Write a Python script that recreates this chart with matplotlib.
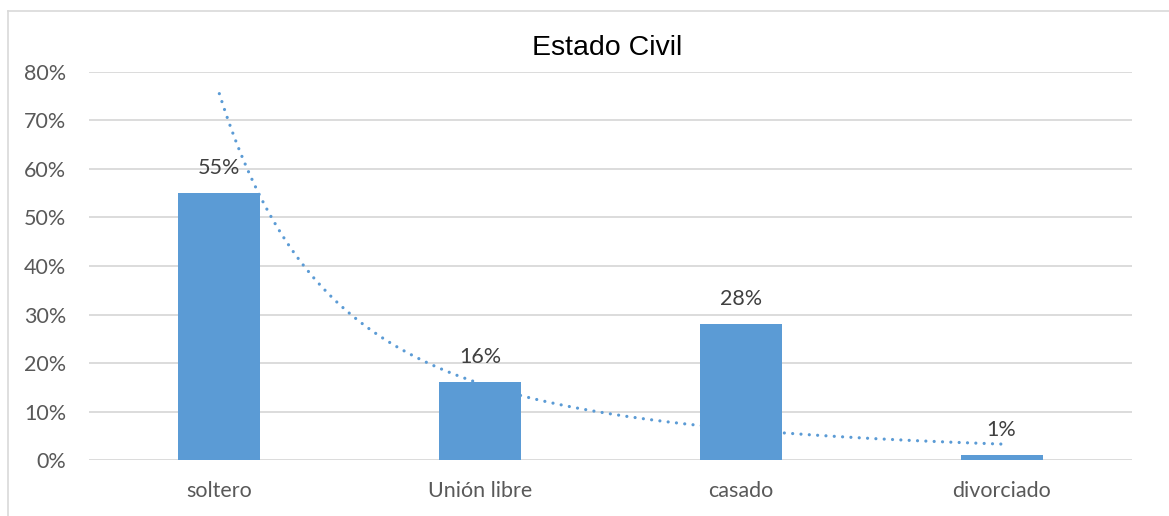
import numpy as np
import matplotlib.pyplot as plt
from matplotlib.lines import Line2D

categorias = ['soltero', 'Unión libre', 'casado', 'divorciado']
porcentajes = [0.55, 0.16, 0.28, 0.01]
etiquetas = ['55%', '16%', '28%', '1%']
ticks_y = [0, 0.1, 0.2, 0.3, 0.4, 0.5, 0.6, 0.7, 0.8]
ticks_y_txt = ['0%', '10%', '20%', '30%', '40%', '50%', '60%', '70%', '80%']

azul = '#5B9BD5'
gris = '#D9D9D9'

plt.rcParams['font.family'] = ['Lato', 'DejaVu Sans']

fig = plt.figure(figsize=(11.69, 5.16), dpi=100)
ax = fig.add_axes([0.0761, 0.1085, 0.8922, 0.752])

x = np.arange(len(categorias))
ax.bar(x, porcentajes, width=0.314, color=azul, zorder=3)

for xi, v, t in zip(x, porcentajes, etiquetas):
    ax.annotate(t, (xi, v), xytext=(0, 11), textcoords='offset points',
                ha='center', va='bottom', fontsize=15.5, color='#404040', zorder=4)

# linea de tendencia potencial (como Excel), ajuste en log-log
xs = x + 1
b, ln_a = np.polyfit(np.log(xs), np.log(porcentajes), 1)
xt = np.linspace(1, len(categorias), 200)
yt = np.exp(ln_a) * xt ** b
ax.plot(xt - 1, yt, color=azul, lw=2.3, linestyle=(0, (0.01, 2.6)),
        dash_capstyle='round', zorder=4)

ax.set_xlim(-0.5, len(categorias) - 0.5)
ax.set_ylim(0, 0.8)
ax.set_yticks(ticks_y)
ax.set_yticklabels(ticks_y_txt)
ax.set_xticks(x)
ax.set_xticklabels(categorias)
ax.tick_params(axis='both', length=0, labelsize=15.5, colors='#595959')
ax.tick_params(axis='y', pad=16.5)
ax.tick_params(axis='x', pad=15)
ax.grid(axis='y', color=gris, lw=1.3, zorder=0)
for s in ax.spines.values():
    s.set_visible(False)

fig.text(0.519, 0.907, 'Estado Civil', ha='center', va='center',
         fontsize=20.5, family='Liberation Sans', color='black',
         bbox=dict(facecolor='white', edgecolor='none', pad=2, alpha=0.6))

# borde del area del grafico
fig.add_artist(Line2D([0.0065, 0.0065], [0, 0.978], color=gris, lw=1.2))
fig.add_artist(Line2D([0.0065, 1.0], [0.978, 0.978], color=gris, lw=1.2))

fig.savefig('out.png', dpi=100)
